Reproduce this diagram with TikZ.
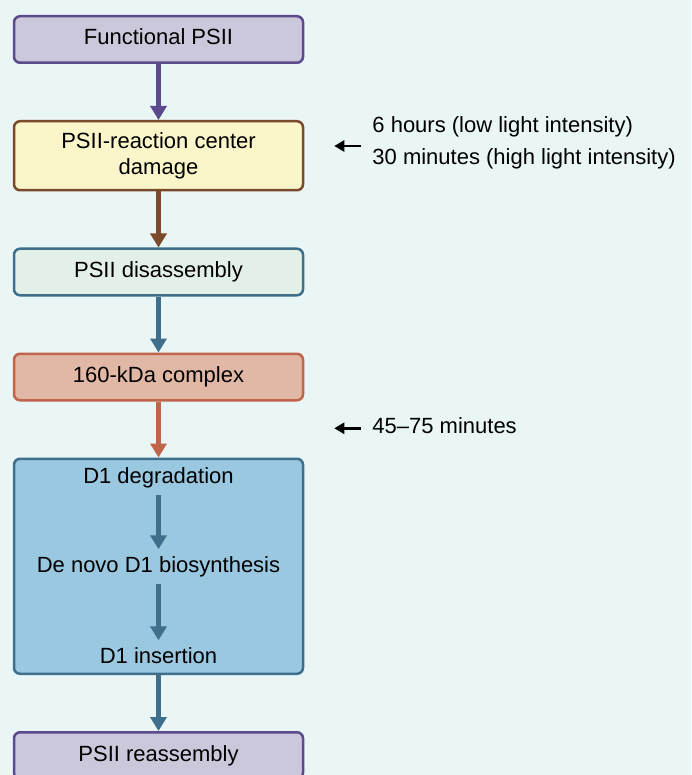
\documentclass[tikz,border=0pt]{standalone}
\usepackage{fontspec}
\setmainfont{Liberation Sans}
\usetikzlibrary{positioning}
\usetikzlibrary{arrows.meta}
\definecolor{paper}{HTML}{EAF5F6}
\definecolor{lavender}{HTML}{CCC8DC}
\definecolor{plum}{HTML}{5B4A8C}
\definecolor{cream}{HTML}{FAF6CA}
\definecolor{umber}{HTML}{7B4A2A}
\definecolor{mint}{HTML}{E3F0E7}
\definecolor{steel}{HTML}{3F6F8B}
\definecolor{salmon}{HTML}{E0B8A5}
\definecolor{rust}{HTML}{C0644A}
\definecolor{sky}{HTML}{9AC8E0}
\newcommand{\boxfont}{\fontsize{22}{26}\selectfont}

\begin{document}
\begin{tikzpicture}[x=1pt, y=1pt, node distance=56pt,
    stage/.style={draw, line width=2.5pt, rounded corners=6pt, minimum width=289pt,
        minimum height=46.5pt, align=center, font=\boxfont, text height=16pt, text depth=5pt},
    substep/.style={font=\boxfont, text height=16pt, text depth=5pt, inner sep=6.5pt},
    note/.style={anchor=west, inner sep=0pt, align=left, font=\fontsize{22}{32}\selectfont},
    flow/.style={-{Triangle[width=16pt, length=14pt]}, line width=5.5pt},
    pointer/.style={-{Triangle[width=11pt, length=10pt]}, line width=2.6pt, black},
]
\fill[paper] (0,0) rectangle (691,-775);
\useasboundingbox (0,0) rectangle (691,-775);

% main repair cycle
\node[stage, fill=lavender, draw=plum] (functional) at (158.5,-39.5) {Functional PSII};
\node[stage, fill=cream, draw=umber, below=of functional, minimum height=69pt,
    text height={}, text depth={}] (damage) {PSII-reaction center\\damage};
\node[stage, fill=mint, draw=steel, below=of damage] (disassembly) {PSII disassembly};
\node[stage, fill=salmon, draw=rust, below=of disassembly] (complex) {160-kDa complex};
\node[stage, fill=sky, draw=steel, below=of complex, minimum height=215pt] (repair) {};
\node[stage, fill=lavender, draw=plum, below=of repair] (reassembly) {PSII reassembly};

% steps inside the repair box
\node[substep] (deg) at ([yshift=-20.75pt]repair.north) {D1 degradation};
\node[substep] (bio) at ([yshift=-109pt]repair.north) {De novo D1 biosynthesis};
\node[substep] (ins) at ([yshift=17.5pt]repair.south) {D1 insertion};

\draw[flow, plum] (functional) -- (damage);
\draw[flow, umber] (damage) -- (disassembly);
\draw[flow, steel] (disassembly) -- (complex);
\draw[flow, rust] (complex) -- (repair);
\draw[flow, steel] (deg) -- (bio);
\draw[flow, steel] (bio) -- (ins);
\draw[flow, steel] (repair) -- (reassembly);

% timing notes
\coordinate (damage tip) at ([xshift=30pt, yshift=9.75pt]damage.east);
\node[note, right=38pt of damage tip, yshift=3.2pt] (light times)
    {6 hours (low light intensity)\\30 minutes (high light intensity)};
\draw[pointer] ([xshift=-11pt]light times.west |- damage tip) -- (damage tip);

\coordinate (complex tip) at ([xshift=30pt, yshift=-26.75pt]complex.south east);
\node[note, right=38pt of complex tip, text height=16pt, text depth=5pt] (turnover) {45–75 minutes};
\draw[pointer] ([xshift=-11pt]turnover.west) -- (complex tip);

\end{tikzpicture}
\end{document}
